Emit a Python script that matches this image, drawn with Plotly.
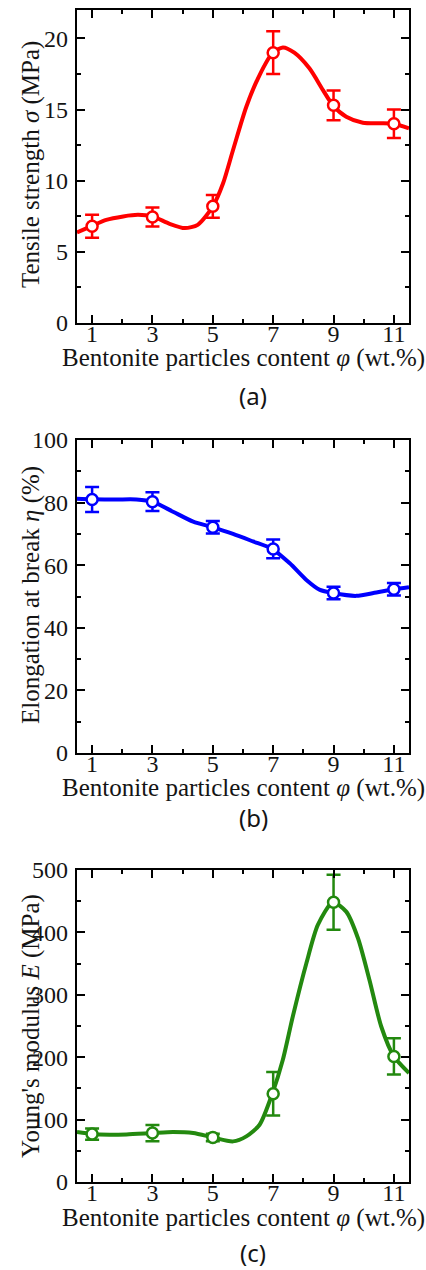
import plotly.graph_objects as go

# ---- data ----
content = [1, 3, 5, 7, 9, 11]

tensile = [6.8, 7.45, 8.2, 19.0, 15.3, 14.0]
tensile_err = [0.8, 0.67, 0.8, 1.5, 1.05, 1.0]
tensile_fit_x = [0.5, 1.0, 1.47, 2.03, 2.52, 3.0, 3.57, 4.07, 4.5, 5.0, 5.34, 5.67, 6.11, 6.55, 6.97, 7.32, 7.7, 8.2, 8.65, 8.98, 9.42, 9.97, 10.53, 11.0, 11.5]
tensile_fit_y = [6.36, 6.83, 7.25, 7.49, 7.6, 7.49, 6.97, 6.67, 6.9, 8.19, 9.82, 12.16, 15.2, 17.43, 18.95, 19.37, 19.0, 17.9, 16.37, 15.3, 14.5, 14.08, 14.04, 14.0, 13.68]

elong = [81.0, 80.3, 72.1, 65.2, 51.1, 52.3]
elong_err = [4.0, 3.0, 2.0, 3.0, 2.0, 2.0]
elong_fit_x = [0.5, 1.0, 1.8, 2.47, 3.0, 3.68, 4.35, 5.0, 5.67, 6.33, 6.97, 7.55, 8.1, 8.55, 8.98, 9.75, 10.42, 11.0, 11.5]
elong_fit_y = [81.2, 81.06, 81.0, 81.0, 80.3, 77.1, 73.9, 72.1, 70.0, 67.6, 65.2, 60.6, 55.3, 52.1, 51.1, 50.2, 51.3, 52.3, 53.0]

modulus = [76.8, 78.4, 71.5, 141.4, 448.2, 201.2]
modulus_err = [9, 13, 6, 35, 44, 29]
modulus_fit_x = [0.5, 1.0, 1.58, 2.14, 3.0, 3.68, 4.35, 5.0, 5.67, 6.11, 6.55, 6.97, 7.32, 7.65, 8.1, 8.48, 8.98, 9.42, 9.81, 10.19, 10.58, 11.0, 11.5]
modulus_fit_y = [80, 76.8, 75.8, 76.3, 78.4, 80, 78.4, 71.5, 65.1, 73.1, 91.8, 141.4, 195.8, 265.2, 350.6, 412, 448.2, 433.3, 390.6, 323.9, 249.2, 201.2, 174.5]

x_ticks = [1, 3, 5, 7, 9, 11]
x_title = "Bentonite particles content <i>φ</i> (wt.%)"
y_titles = ["Tensile strength <i>σ</i> (MPa)", "Elongation at break <i>η</i> (%)", "Young's modulus <i>E</i> (MPa)"]
panel_labels = ["(a)", "(b)", "(c)"]
colors = ["#FF0000", "#0000FF", "#23890F"]
y_ranges = [[0, 22], [0, 100], [0, 500]]
y_dticks = [5, 20, 100]

W, H = 426, 1270
ink = "#141414"
serif = "Liberation Serif"

# pixel geometry of panels
x_dom = [77 / W, 409 / W]
panels_px = [(10, 323), (440, 753), (870, 1182)]
xtitle_px = [358, 788, 1218]
label_px = [395, 817, 1252]
ytitle_px = [165, 595, 1026]

fig = go.Figure()

series = [
    (tensile, tensile_err, tensile_fit_x, tensile_fit_y),
    (elong, elong_err, elong_fit_x, elong_fit_y),
    (modulus, modulus_err, modulus_fit_x, modulus_fit_y),
]

annotations = []
for i, (vals, errs, fx, fy) in enumerate(series):
    n = "" if i == 0 else str(i + 1)
    xa, ya = "x" + n, "y" + n
    c = colors[i]
    fig.add_trace(go.Scatter(x=fx, y=fy, mode="lines", line=dict(color=c, width=4, shape="spline", smoothing=0.7),
                             xaxis=xa, yaxis=ya, showlegend=False, hoverinfo="skip"))
    fig.add_trace(go.Scatter(x=content, y=vals, mode="markers",
                             marker=dict(symbol="circle", size=11, color="white", line=dict(color=c, width=2.5)),
                             error_y=dict(type="data", array=errs, visible=True, color=c, thickness=2.5, width=7),
                             xaxis=xa, yaxis=ya, showlegend=False))
    top, bot = panels_px[i]
    axcommon = dict(showline=True, linewidth=2.2, linecolor="black", mirror="allticks", ticks="inside",
                    tickwidth=2, ticklen=8, tickcolor="black", showgrid=False, zeroline=False, automargin=False,
                    tickfont=dict(family=serif, size=24, color=ink),
                    minor=dict(ticks="inside", ticklen=4, tickwidth=1.8, tickcolor="black"))
    fig.update_layout(**{
        "xaxis" + n: dict(domain=x_dom, range=[0.5, 11.5], tickvals=x_ticks, anchor=ya,
                          minor_tickvals=[2, 4, 6, 8, 10], ticklabelstandoff=-12, **axcommon),
        "yaxis" + n: dict(domain=[1 - bot / H, 1 - top / H], range=y_ranges[i], dtick=y_dticks[i], anchor=xa,
                          minor_dtick=y_dticks[i] / 2, ticklabelstandoff=2, **axcommon),
    })
    annotations.append(dict(x=243 / W, y=1 - xtitle_px[i] / H, xref="paper", yref="paper", text=x_title,
                            showarrow=False, font=dict(family=serif, size=25, color=ink), xanchor="center", yanchor="middle"))
    annotations.append(dict(x=253 / W, y=1 - label_px[i] / H, xref="paper", yref="paper", text=panel_labels[i],
                            showarrow=False, font=dict(family="Noto Sans", size=24, color=ink), xanchor="center", yanchor="middle"))
    annotations.append(dict(x=31 / W, y=1 - ytitle_px[i] / H, xref="paper", yref="paper", text=y_titles[i],
                            showarrow=False, textangle=-90, font=dict(family=serif, size=25, color=ink),
                            xanchor="center", yanchor="middle"))

fig.update_layout(width=W, height=H, margin=dict(l=0, r=0, t=0, b=0), paper_bgcolor="white",
                  plot_bgcolor="white", annotations=annotations, showlegend=False)

fig.write_html("out.html", config={"displayModeBar": False},
               post_script="document.body.style.margin='0';document.body.style.overflow='hidden';")
